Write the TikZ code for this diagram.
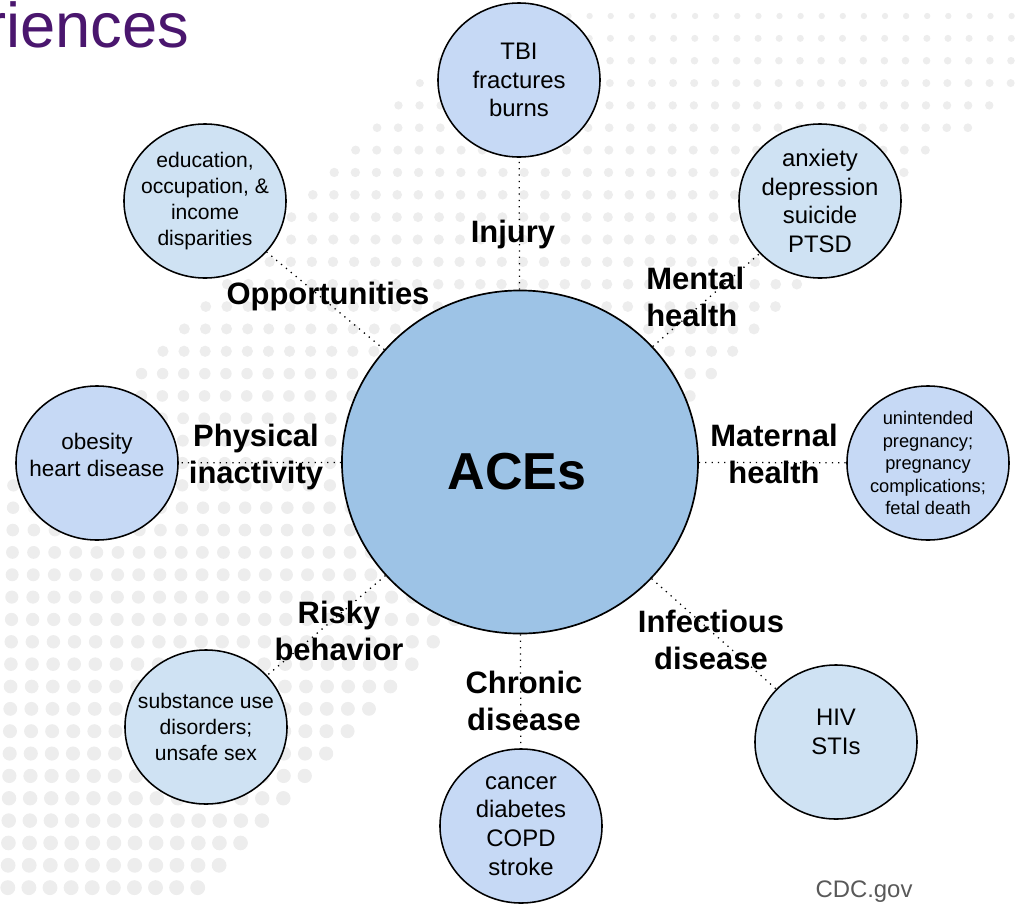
\documentclass[tikz,border=0pt]{standalone}
\usepackage{fontspec}
\setmainfont{Liberation Sans}
\usetikzlibrary{shapes.geometric}

\definecolor{acefill}{RGB}{157,195,230}
\definecolor{outA}{RGB}{198,217,245}
\definecolor{outB}{RGB}{207,226,243}
\definecolor{dotgray}{RGB}{237,237,237}
\definecolor{titlepurple}{RGB}{74,22,110}
\definecolor{srcgray}{RGB}{89,89,89}

\tikzset{
  acecircle/.style={ellipse, draw, line width=1.2pt, fill=acefill,
    minimum width=8.9cm, minimum height=8.575cm, inner sep=0pt},
  outcome/.style={ellipse, draw, line width=1.1pt, align=center,
    minimum width=4.05cm, minimum height=3.85cm, inner xsep=-9pt, inner ysep=-3pt},
  pathway/.style={font=\bfseries\fontsize{22pt}{26.5pt}\selectfont, align=center, inner sep=0pt},
  link/.style={line width=0.9pt, dash pattern=on 0.9pt off 3.6pt},
}

\begin{document}
\begin{tikzpicture}[x=0.025cm, y=-0.025cm]
\useasboundingbox (0,0) rectangle (1015,903);
% halftone dots in a diagonal band
\foreach \r in {0,...,39} {
  \foreach \c in {0,...,48} {
    \pgfmathsetmacro{\dy}{16+22.35*\r}
    \pgfmathsetmacro{\dx}{-1.2+21.1*\c-0.31*\r}
    \pgfmathtruncatemacro{\inband}{and(\dx+\dy>497,\dx+\dy<1096)}
    \ifnum\inband=1
      \fill[dotgray] (\dx,\dy) circle ({2.5+5*sqrt(\dy/900)});
    \fi
  }
}
% central circle
\node[acecircle] (ace) at (520,462) {};
% outcomes around it
\node[outcome, fill=outA, font=\fontsize{17pt}{20.4pt}\selectfont] (tbi) at (519,80) {TBI\\fractures\\burns};
\node[outcome, fill=outB, font=\fontsize{17pt}{20.4pt}\selectfont] (anx) at (820,201) {anxiety\\depression\\suicide\\PTSD};
\node[outcome, fill=outA, font=\fontsize{13pt}{16pt}\selectfont] (preg) at (928,463) {unintended\\pregnancy;\\pregnancy\\complications;\\fetal death};
\node[outcome, fill=outB, font=\fontsize{17pt}{20.4pt}\selectfont] (hiv) at (836,742) {HIV\\STIs\\[-6pt]\mbox{}};
\node[outcome, fill=outA, font=\fontsize{17pt}{20.4pt}\selectfont] (cancer) at (521,826) {cancer\\diabetes\\COPD\\stroke};
\node[outcome, fill=outB, font=\fontsize{15pt}{18.4pt}\selectfont] (sud) at (206,727) {substance use\\disorders;\\unsafe sex};
\node[outcome, fill=outA, font=\fontsize{16pt}{19.4pt}\selectfont] (obes) at (97,463) {obesity\\heart disease\\[-8pt]\mbox{}};
\node[outcome, fill=outB, font=\fontsize{15pt}{18.3pt}\selectfont] (edu) at (205,201) {education,\\occupation, \&\\income\\disparities};
% dotted spokes
\foreach \o in {tbi,anx,preg,hiv,cancer,sud,obes,edu}
  \draw[link] (ace) -- (\o);
% pathway labels
\node[pathway, anchor=base] (lInjury) at (513,242) {Injury};
\node[pathway, anchor=base] (lOpp) at (328,304) {Opportunities};
\node[pathway, anchor=north west, align=left] (lMental) at (646,267) {Mental\\health};
\node[pathway, anchor=north] (lMaternal) at (774,424) {Maternal\\health};
\node[pathway, anchor=north] (lPhys) at (256,424) {Physical\\inactivity};
\node[pathway, anchor=north] (lRisky) at (339,601) {Risky\\behavior};
\node[pathway, anchor=north] (lChronic) at (524,671) {Chronic\\disease};
\node[pathway, anchor=north] (lInfect) at (711,610) {Infectious\\disease};
\node[font=\bfseries\fontsize{37pt}{40pt}\selectfont, anchor=base, inner sep=0pt] (aceTxt) at (517,489) {ACEs};
% heading and source
\node[font=\fontsize{45pt}{50pt}\selectfont, text=titlepurple, anchor=base west, inner sep=0pt] (title) at (-15,47) {riences};
\node[font=\fontsize{17pt}{20pt}\selectfont, text=srcgray, anchor=base, inner sep=0pt] (src) at (864,897) {CDC.gov};
\end{tikzpicture}
\end{document}
